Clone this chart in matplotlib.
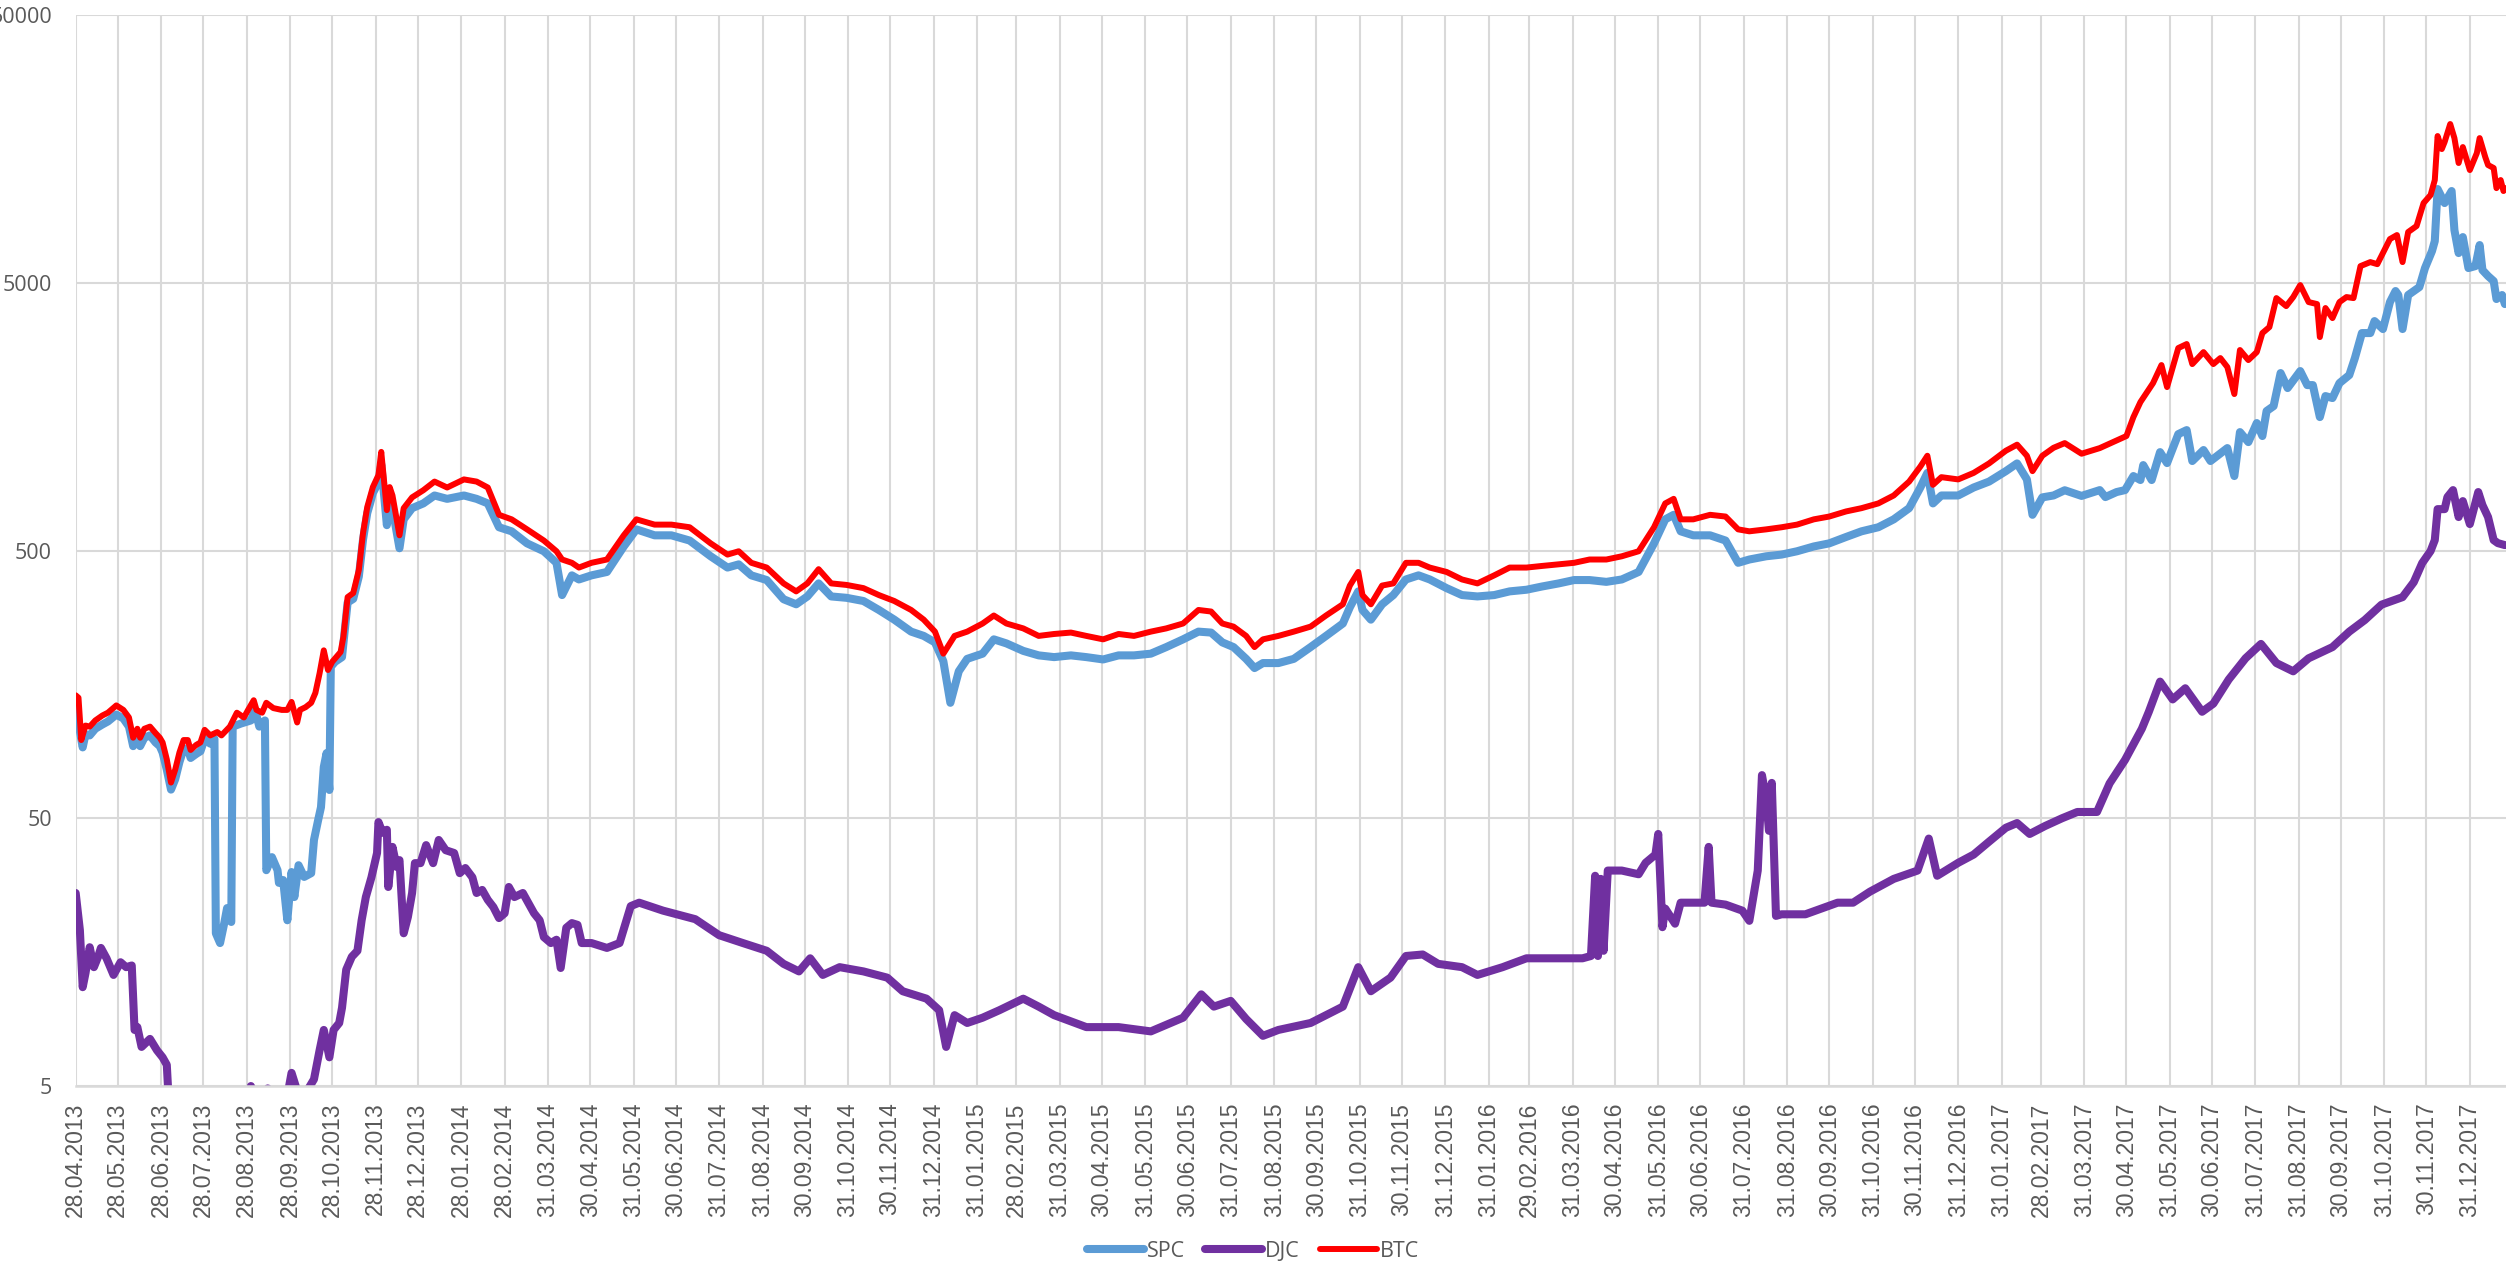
import datetime as dt
import matplotlib
matplotlib.use('Agg')
import matplotlib.pyplot as plt
import matplotlib.dates as mdates
from matplotlib.ticker import FixedLocator, NullLocator

start = dt.datetime(2013, 4, 28)

tick_labels = [
    '28.04.2013', '28.05.2013', '28.06.2013', '28.07.2013', '28.08.2013', '28.09.2013',
    '28.10.2013', '28.11.2013', '28.12.2013',
    '28.01.2014', '28.02.2014', '31.03.2014', '30.04.2014', '31.05.2014', '30.06.2014',
    '31.07.2014', '31.08.2014', '30.09.2014', '31.10.2014', '30.11.2014', '31.12.2014',
    '31.01.2015', '28.02.2015', '31.03.2015', '30.04.2015', '31.05.2015', '30.06.2015',
    '31.07.2015', '31.08.2015', '30.09.2015', '31.10.2015', '30.11.2015', '31.12.2015',
    '31.01.2016', '29.02.2016', '31.03.2016', '30.04.2016', '31.05.2016', '30.06.2016',
    '31.07.2016', '31.08.2016', '30.09.2016', '31.10.2016', '30.11.2016', '31.12.2016',
    '31.01.2017', '28.02.2017', '31.03.2017', '30.04.2017', '31.05.2017', '30.06.2017',
    '31.07.2017', '31.08.2017', '30.09.2017', '31.10.2017', '30.11.2017', '31.12.2017',
]

y_ticks = [5, 50, 500, 5000, 50000]

# days after 28.04.2013
spc_day = [0, 5, 7, 10, 14, 19, 23, 29, 34, 38, 41, 44, 46, 49, 53, 57, 60, 62, 65, 68, 71, 74, 77, 80, 82, 86, 89, 92, 96, 99,
           100, 103, 106, 108, 111, 112, 118, 125, 128, 131, 135, 136, 140, 144, 145, 148, 151, 154, 156, 159, 163, 168, 170,
           173, 175, 177, 179, 181, 182, 185, 190, 194, 198, 202, 205, 208, 210, 212, 216, 218, 222, 224, 226, 231, 234, 240,
           248, 256, 265, 277, 286, 294, 302, 311, 322, 334, 343, 347, 354, 359, 368, 379, 391, 400, 413, 425, 438, 453, 465,
           473, 482, 493, 505, 514, 522, 530, 539, 550, 562, 573, 584, 596, 605, 613, 619, 624, 630, 636, 647, 655, 664, 676,
           687, 698, 710, 721, 733, 744, 755, 767, 778, 790, 801, 810, 818, 826, 835, 841, 847, 858, 869, 881, 892, 904, 909,
           915, 918, 924, 932, 940, 949, 958, 966, 978, 989, 1000, 1012, 1023, 1035, 1046, 1058, 1069, 1080, 1092, 1103, 1115,
           1126, 1134, 1140, 1145, 1154, 1166, 1177, 1186, 1194, 1206, 1217, 1228, 1240, 1251, 1263, 1274, 1286, 1297, 1308,
           1316, 1321, 1325, 1331, 1343, 1354, 1365, 1377, 1385, 1392, 1396, 1403, 1411, 1419, 1431, 1444, 1448, 1456, 1462,
           1468, 1473, 1475, 1481, 1487, 1492, 1500, 1506, 1510, 1518, 1523, 1535, 1540, 1544, 1550, 1556, 1560, 1563, 1568,
           1573, 1578, 1587, 1592, 1596, 1601, 1605, 1610, 1615, 1622, 1626, 1631, 1637, 1640, 1646, 1651, 1655, 1657, 1660,
           1664, 1672, 1676, 1681, 1683, 1685, 1690, 1695, 1697, 1700, 1703, 1707, 1712, 1715, 1717, 1721, 1725, 1727, 1731,
           1733]
spc_val = [130, 92, 103, 102, 108, 112, 115, 122, 118, 110, 93, 100, 93, 100, 102, 96, 93, 88, 76, 64, 70, 81, 91, 91, 84, 87, 89, 99, 95, 99,
           18.6, 17.1, 20.3, 23.1, 20.5, 110, 113, 116, 127, 110, 116, 32, 35.8, 32, 28.7, 29.4, 20.8, 31.5, 25.4, 33.4, 30.2, 31.2, 41.5,
           49.3, 55, 77.7, 87.6, 63.8, 184, 192, 200, 320, 330, 400, 550, 690, 750, 820, 900, 1050, 622, 780, 720, 510, 654, 720,
           750, 803, 780, 803, 780, 750, 611, 590, 532, 497, 450, 341, 404, 390, 404, 416, 518, 600, 570, 570, 545, 476, 432,
           444, 404, 388, 329, 315, 337, 377, 337, 333, 324, 300, 276, 249, 240, 227, 193, 135, 177, 197, 206, 233, 225, 211,
           203, 200, 203, 200, 196, 203, 203, 206, 218, 233, 249, 247, 227, 218, 197, 182, 190, 190, 197, 218, 240, 267, 307,
           352, 300, 276, 315, 341, 390, 404, 390, 362, 341, 337, 341, 352, 357, 367, 377, 388, 388, 382, 390, 416,
           532, 654, 680, 590, 570, 570, 545, 450, 463, 476, 483, 497, 518, 532, 562, 590, 611, 654, 720,
           860, 975, 750, 803, 803, 860, 905, 990, 1058, 922, 680, 790, 803, 840, 800, 841, 792, 827, 841,
           949, 917, 1043, 917, 1166, 1061, 1361, 1409, 1080, 1187, 1080, 1207, 949, 1385, 1271, 1497, 1339, 1660, 1732,
           2301, 2023, 2341, 2075, 2075, 1576, 1888, 1856, 2111, 2262, 2618, 3246, 3246, 3598, 3360, 4237, 4659, 4502, 3360,
           4502, 4820, 5678, 6570, 7160, 11200, 9930, 11010, 7870, 6459, 7410, 5678, 5774, 6920, 5580, 5300, 5075, 4350, 4502,
           4165]

djc_day = [0, 3, 5, 7, 10, 13, 16, 18, 22, 27, 32, 36, 40, 42, 44, 47, 53, 58, 62, 65, 66, 68, 80, 100, 122, 125, 130, 137, 140,
           150, 154, 158, 163, 170, 174, 177, 181, 184, 188, 190, 193, 197, 201, 204, 207, 211, 215, 216, 219, 222, 223, 226,
           229, 231, 234, 237, 240, 242, 246, 250, 255, 259, 264, 270, 274, 278, 283, 286, 290, 294, 298, 302, 306, 309, 313,
           319, 323, 327, 331, 334, 339, 343, 346, 350, 354, 358, 361, 368, 379, 388, 396, 402, 419, 442, 459, 476, 493, 505,
           516, 524, 533, 545, 562, 579, 590, 607, 616, 621, 627, 636, 647, 659, 676, 687, 698, 721, 744, 767, 790, 803, 812,
           824, 835, 847, 858, 881, 904, 915, 924, 938, 949, 961, 972, 989, 1000, 1018, 1035, 1052, 1075, 1081, 1084, 1086,
           1088, 1090, 1093, 1103, 1115, 1120, 1127, 1129, 1132, 1134, 1141, 1145, 1154, 1162, 1165, 1167, 1177, 1189, 1194,
           1200, 1203, 1206, 1208, 1210, 1213, 1217, 1234, 1257, 1268, 1280, 1297, 1314, 1322, 1328, 1343, 1354, 1365, 1377,
           1385, 1394, 1405, 1417, 1428, 1442, 1451, 1462, 1474, 1479, 1487, 1496, 1505, 1517, 1525, 1536, 1548, 1559, 1570,
           1582, 1593, 1610, 1622, 1633, 1645, 1660, 1668, 1674, 1680, 1683, 1685, 1690, 1692, 1696, 1700, 1703, 1708, 1714,
           1717, 1721, 1725, 1728, 1733]
djc_val = [26.3, 19.1, 11.7, 13.2, 16.5, 13.9, 15.2, 16.4, 15.0, 13.0, 14.5, 13.9, 14.1, 8.1, 8.3, 7.0, 7.5, 6.8, 6.4, 6.0, 4.8, 3.5, 3.0, 3.3, 4.0, 5.0, 4.3, 4.9, 4.2,
           4.3, 5.6, 4.8, 4.6, 5.3, 6.8, 8.1, 6.4, 8.1, 8.6, 9.8, 13.6, 15.2, 16.0, 20.8, 25.4, 30.1, 37.1, 48.4, 44.1, 45.3, 27.7, 39.1,
           32.9, 34.9, 18.6, 21.4, 26.3, 34.0, 34.0, 39.7, 34.0, 41.5, 38.0, 37.1, 31.2, 32.6, 30.1, 26.3, 27.0, 24.8, 23.3, 21.2, 22.1, 27.7, 25.4,
           26.3, 24.1, 22.1, 20.8, 18.0, 17.1, 17.6, 13.8, 19.5, 20.3, 20.0, 17.1, 17.1, 16.4, 17.1, 23.5, 24.2, 22.6, 21.0, 18.3, 17.1, 16.0, 14.3,
           13.4, 15.0, 13.0, 13.9, 13.4, 12.7, 11.3, 10.6, 9.6, 7.0, 9.2, 8.6, 9.0, 9.6, 10.6, 9.9, 9.2, 8.3, 8.3, 8.0, 9.0, 11.0, 9.9,
           10.4, 8.9, 7.7, 8.1, 8.6, 9.9, 13.9, 11.3, 12.7, 15.3, 15.5, 14.3, 13.9, 13.0, 13.9, 15.0, 15.0, 15.0, 15.3, 30.5, 15.3,
           29.7, 16.0, 31.9, 31.9, 30.9, 34.1, 36.6, 43.7, 19.6, 23.0, 20.2, 24.2, 24.2, 24.2, 39.1, 24.2, 23.8, 22.6, 20.7,
           31.9, 72.5, 59.0, 44.9, 67.8, 21.6, 21.9, 21.9, 24.2, 24.2, 26.6, 29.7, 31.9, 42.0, 30.5, 34.1, 36.6, 40.9, 46.1,
           48.0, 43.7, 46.8, 50.0, 52.8, 52.8, 67.5, 82.6, 108, 125, 162, 139, 153, 125, 134, 165, 198, 224, 190,
           177, 198, 218, 249, 275, 314, 335, 381, 449, 498, 547, 714, 714, 792, 841, 667, 765, 628, 827,
           739, 667, 547, 533, 524]

btc_day = [0, 2, 4, 7, 10, 14, 19, 23, 29, 34, 38, 41, 44, 46, 49, 53, 57, 60, 62, 65, 68, 71, 74, 77, 80, 82, 86, 89, 92, 96,
           101, 104, 110, 115, 120, 123, 127, 129, 133, 136, 141, 147, 151, 154, 158, 160, 164, 168, 171, 174, 177, 180, 183,
           189, 191, 194, 198, 202, 205, 208, 210, 212, 216, 218, 222, 224, 226, 231, 234, 240, 248, 256, 265, 277, 286, 294,
           302, 311, 322, 334, 343, 347, 354, 359, 368, 379, 391, 400, 413, 425, 438, 453, 465, 473, 482, 493, 505, 514, 522,
           530, 539, 550, 562, 573, 584, 596, 605, 613, 619, 627, 636, 647, 655, 664, 676, 687, 698, 710, 721, 733, 744, 755,
           767, 778, 790, 801, 810, 818, 826, 835, 841, 847, 858, 869, 881, 892, 904, 909, 915, 918, 924, 932, 940, 949, 958,
           966, 978, 989, 1000, 1012, 1023, 1035, 1046, 1058, 1069, 1080, 1092, 1103, 1115, 1126, 1134, 1140, 1145, 1154, 1166,
           1177, 1186, 1194, 1206, 1217, 1228, 1240, 1251, 1263, 1274, 1286, 1297, 1308, 1316, 1321, 1325, 1331, 1343, 1354,
           1365, 1377, 1385, 1392, 1396, 1403, 1411, 1419, 1431, 1444, 1463, 1468, 1473, 1482, 1488, 1492, 1500, 1506, 1510,
           1518, 1525, 1530, 1535, 1540, 1544, 1550, 1556, 1560, 1565, 1570, 1577, 1582, 1587, 1593, 1599, 1601, 1605, 1610,
           1615, 1620, 1625, 1630, 1637, 1642, 1646, 1651, 1656, 1660, 1664, 1670, 1675, 1680, 1683, 1685, 1688, 1690, 1694,
           1697, 1700, 1703, 1708, 1713, 1715, 1719, 1721, 1725, 1727, 1730, 1732, 1734]
btc_val = [144, 141, 98, 111, 110, 116, 121, 124, 132, 127, 119, 100, 108, 100, 108, 110, 104, 100, 96, 83, 68, 76, 88, 98, 98, 90, 94, 96, 107, 102,
           105, 102, 110, 124, 119, 127, 138, 127, 124, 135, 129, 127, 127, 136, 114, 127, 130, 135, 147, 174, 212, 179, 192,
           209, 238, 335, 347, 423, 581, 727, 792, 863, 957, 1168, 708, 863, 803, 570, 720, 790, 840, 905, 860, 922, 905, 860,
           680, 654, 600, 545, 497, 463, 450, 432, 450, 463, 570, 654, 625, 625, 611, 532, 483, 497, 450, 432, 377, 352, 377,
           426, 377, 372, 362, 341, 324, 300, 276, 249, 206, 240, 249, 267, 286, 267, 256, 240, 244, 247, 240, 233, 244, 240,
           249, 256, 267, 300, 296, 267, 260, 240, 218, 233, 240, 249, 260, 286, 315, 370, 416, 341, 315, 370, 377, 450, 450,
           432, 416, 390, 377, 404, 432, 432, 438, 444, 450, 463, 463, 476, 497, 611, 750, 780, 654, 654, 680,
           670, 600, 590, 600, 611, 625, 654, 670, 700, 720, 750, 803, 905, 1030, 1130, 880, 940, 922, 975,
           1058, 1180, 1243, 1130, 990, 1130, 1210, 1260, 1150, 1207, 1339, 1576, 1793, 2111, 2465, 2040, 2853, 2953, 2486,
           2756, 2486, 2618, 2423, 1921, 2805, 2573, 2756, 3246, 3418, 4385, 4093, 4424, 4904, 4237, 4165, 3136, 4025, 3692,
           4237, 4424, 4385, 5774, 5976, 5871, 6459, 7285, 7540, 5976, 7738, 8150, 9930, 10640, 12100, 17670, 15800, 16780, 19590,
           17360, 14010, 16070, 13190, 15260, 17360, 14750, 13770, 13420, 11290, 12100, 11010, 11290]


def to_dates(days):
    return [start + dt.timedelta(days=d) for d in days]


grey = '#595959'
grid_c = '#D9D9D9'

fig = plt.figure(figsize=(25.06, 12.68), dpi=100)
ax = fig.add_axes([0.0302, 0.1435, 0.9698, 0.8446])

ax.plot(to_dates(spc_day), spc_val, color='#5B9BD5', lw=5.8, label='SPC',
        solid_joinstyle='round', solid_capstyle='round')
ax.plot(to_dates(djc_day), djc_val, color='#7030A0', lw=5.8, label='DJC',
        solid_joinstyle='round', solid_capstyle='round')
ax.plot(to_dates(btc_day), btc_val, color='#FF0000', lw=4.3, label='BTC',
        solid_joinstyle='round', solid_capstyle='round')

ax.set_yscale('log')
ax.set_ylim(5, 50000)
ax.yaxis.set_major_locator(FixedLocator(y_ticks))
ax.yaxis.set_minor_locator(NullLocator())
ax.set_yticklabels([str(v) for v in y_ticks], fontfamily='Open Sans', fontsize=15.5, color=grey)

tick_dates = [dt.datetime.strptime(s, '%d.%m.%Y') for s in tick_labels]
ax.set_xticks(mdates.date2num(tick_dates))
ax.set_xticklabels(tick_labels, rotation=90, fontfamily='Liberation Sans', fontsize=16.5, color=grey)
ax.xaxis.set_minor_locator(NullLocator())
ax.set_xlim(mdates.date2num(start), mdates.date2num(start + dt.timedelta(days=1733.8)))

ax.tick_params(axis='y', length=0, pad=17)
ax.tick_params(axis='x', length=0, pad=12)

ax.set_axisbelow(True)
ax.grid(True, color=grid_c, lw=1.5)
for s in ['top', 'right', 'left']:
    ax.spines[s].set_visible(False)
ax.spines['bottom'].set_color(grid_c)
ax.spines['bottom'].set_linewidth(1.8)

fig.legend(loc='center', bbox_to_anchor=(0.5, 0.0134), ncol=3, frameon=False,
           handlelength=2.65, handletextpad=0.15, columnspacing=0.93,
           prop={'family': 'Open Sans', 'size': 15.5}, labelcolor=grey)

fig.savefig('out.png', dpi=100)
